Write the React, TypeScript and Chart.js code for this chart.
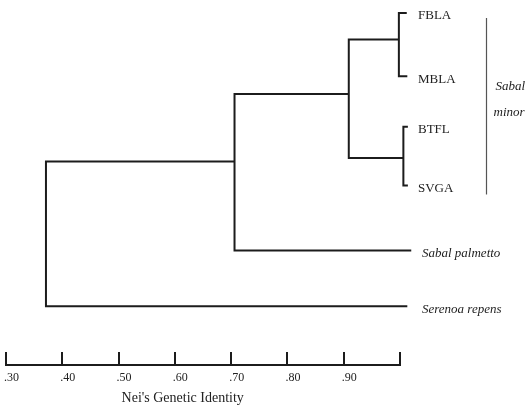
import React, { useEffect, useRef } from 'react';
import { Chart, registerables } from 'chart.js';

Chart.register(...registerables);

// Leaves (top to bottom)
const leafNames = ['FBLA', 'MBLA', 'BTFL', 'SVGA', 'Sabal palmetto', 'Serenoa repens'];
const leafItalic = [false, false, false, false, true, true];
const leafRows = [0, 1.08, 1.94, 2.94, 4.05, 5.0];
const leafIdentity = [1.012, 1.013, 1.014, 1.014, 1.02, 1.013];

// Merges: child indices (0-5 leaves, 6+ = merge nodes in order)
const mergeLeft = [0, 2, 6, 8, 9];
const mergeRight = [1, 3, 7, 4, 5];
const mergeIdentity = [0.998, 1.006, 0.909, 0.706, 0.371];
const mergeRows = [0.45, 2.47, 1.38, 2.53, 3.8];

// Axis
const axisTicks = [0.3, 0.4, 0.5, 0.6, 0.7, 0.8, 0.9, 1.0];
const tickLabels = ['.30', '.40', '.50', '.60', '.70', '.80', '.90', ''];
const axisTitle = "Nei's Genetic Identity";
const groupLabel = ['Sabal', 'minor'];

const LINE = '#1c1c1c';
const TEXT = '#222222';
const SERIF = '"Liberation Serif", "DejaVu Serif", serif';

function nodeRow(i: number): number {
  return i < leafRows.length ? leafRows[i] : mergeRows[i - leafRows.length];
}
function nodeIdentity(i: number): number {
  return i < leafIdentity.length ? leafIdentity[i] : mergeIdentity[i - leafIdentity.length];
}

export default function App() {
  const ref = useRef<HTMLCanvasElement | null>(null);

  useEffect(() => {
    document.body.style.margin = '0';
    const canvas = ref.current;
    if (!canvas) return;

    const datasets = mergeIdentity.map((h, m) => {
      const a = mergeLeft[m];
      const b = mergeRight[m];
      return {
        label: 'node' + m,
        data: [
          { x: nodeIdentity(a), y: nodeRow(a) },
          { x: h, y: nodeRow(a) },
          { x: h, y: nodeRow(b) },
          { x: nodeIdentity(b), y: nodeRow(b) },
        ],
        showLine: true,
        borderColor: LINE,
        borderWidth: 2,
        pointRadius: 0,
        borderJoinStyle: 'miter' as const,
        borderCapStyle: 'butt' as const,
        tension: 0,
        clip: false as const,
      };
    });

    const overlay = {
      id: 'dendroOverlay',
      afterDraw(chart: any) {
        const ctx = chart.ctx as CanvasRenderingContext2D;
        const xs = chart.scales.x;
        const ys = chart.scales.y;
        const axisY = ys.getPixelForValue(6);
        ctx.save();
        // axis line
        ctx.strokeStyle = LINE;
        ctx.lineWidth = 2;
        ctx.lineCap = 'square';
        ctx.beginPath();
        ctx.moveTo(xs.getPixelForValue(axisTicks[0]), axisY);
        ctx.lineTo(xs.getPixelForValue(axisTicks[axisTicks.length - 1]), axisY);
        ctx.stroke();
        ctx.lineCap = 'butt';
        axisTicks.forEach((t) => {
          const px = Math.round(xs.getPixelForValue(t));
          ctx.beginPath();
          ctx.moveTo(px, axisY);
          ctx.lineTo(px, axisY - 13);
          ctx.stroke();
        });
        // tick labels
        ctx.fillStyle = TEXT;
        ctx.font = '12px ' + SERIF;
        ctx.textAlign = 'left';
        ctx.textBaseline = 'middle';
        axisTicks.forEach((t, i) => {
          if (!tickLabels[i]) return;
          ctx.fillText(tickLabels[i], xs.getPixelForValue(t) - 2, axisY + 13);
        });
        // axis title
        ctx.font = '14px ' + SERIF;
        ctx.fillText(axisTitle, xs.getPixelForValue(0.5) + 3, axisY + 33);

        // leaf labels
        const labelX = xs.getPixelForValue(1.0) + 18;
        leafNames.forEach((name, i) => {
          ctx.font = (leafItalic[i] ? 'italic ' : '') + '13px ' + SERIF;
          ctx.fillText(name, labelX + (leafItalic[i] ? 4 : 0), ys.getPixelForValue(leafRows[i]) + 3);
        });

        // group bracket for Sabal minor
        const bx = xs.getPixelForValue(1.0) + 86.5;
        ctx.strokeStyle = '#555555';
        ctx.lineWidth = 1.2;
        ctx.beginPath();
        ctx.moveTo(bx, ys.getPixelForValue(leafRows[0]) + 5);
        ctx.lineTo(bx, ys.getPixelForValue(leafRows[3]) + 9);
        ctx.stroke();
        ctx.font = 'italic 13px ' + SERIF;
        ctx.fillText(groupLabel[0], bx + 9, ys.getPixelForValue(leafRows[1]) + 10);
        ctx.fillText(groupLabel[1], bx + 7, ys.getPixelForValue(leafRows[2]) - 14);
        ctx.restore();
      },
    };

    const chart = new Chart(canvas, {
      type: 'scatter',
      data: { datasets },
      options: {
        animation: false,
        responsive: false,
        events: [],
        layout: { padding: { left: 6, right: 131, top: 13, bottom: 44 } },
        plugins: { legend: { display: false }, tooltip: { enabled: false } },
        scales: {
          x: { type: 'linear', min: 0.3, max: 1.0, display: false },
          y: { type: 'linear', min: 0, max: 6, reverse: true, display: false },
        },
      },
      plugins: [overlay],
    });
    return () => chart.destroy();
  }, []);

  return (
    <div style={{ width: 531, height: 409, background: '#ffffff' }}>
      <canvas ref={ref} width={531} height={409} style={{ display: 'block' }} />
    </div>
  );
}
